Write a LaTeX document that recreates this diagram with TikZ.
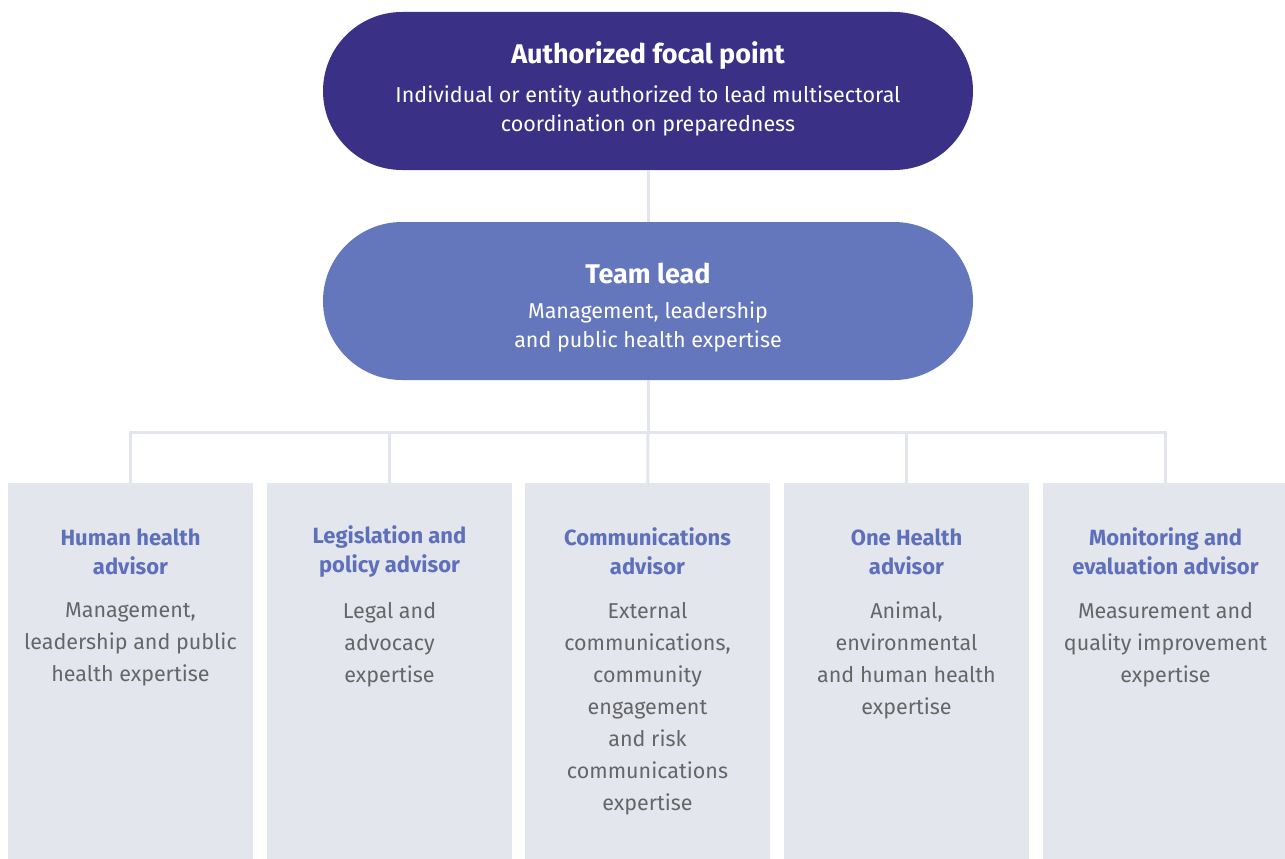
\documentclass[tikz,border=0pt]{standalone}
\usepackage{fontspec}
\setmainfont{Fira Sans}
\usetikzlibrary{positioning}
\definecolor{focalblue}{HTML}{3A3186}
\definecolor{leadblue}{HTML}{6577BC}
\definecolor{linkgrey}{HTML}{E3E5EE}
\definecolor{boxgrey}{HTML}{E4E6EE}
\definecolor{advblue}{HTML}{5F70BA}
\definecolor{bodygrey}{HTML}{666666}
\tikzset{
  pill/.style={rectangle, rounded corners=79pt, minimum width=650pt, minimum height=158pt, inner sep=0pt},
  pilltitle/.style={text=white, font=\fontsize{27}{29}\selectfont\bfseries, inner sep=0pt},
  pilltext/.style={text=white, align=center, font=\fontsize{21.5}{29}\selectfont, inner sep=0pt},
  advbox/.style={fill=boxgrey, minimum width=245pt, minimum height=376pt, anchor=north, inner sep=0pt},
  advtitle/.style={text=advblue, align=center, font=\fontsize{22}{29}\selectfont\bfseries, inner sep=0pt},
  advtext/.style={text=bodygrey, align=center, font=\fontsize{21.5}{32}\selectfont, inner sep=0pt, anchor=north},
  link/.style={draw=linkgrey, line width=3pt}
}
\begin{document}
\begin{tikzpicture}[x=1pt,y=-1pt]
\useasboundingbox (0,0) rectangle (1285,859);
% top of the chart
\node [pill, fill=focalblue] (focal) at (648,91) {};
\node [pilltitle] (focalname) at (648,56) {Authorized focal point};
\node [pilltext] (focaldesc) at (648,110.5) {Individual or entity authorized to lead multisectoral\\coordination on preparedness};
\node [pill, fill=leadblue] (lead) at (648,301) {};
\node [pilltitle] (leadname) at (648,273) {Team lead};
\node [pilltext] (leaddesc) at (648,326.5) {Management, leadership\\and public health expertise};
% advisors
\node [advbox] (human) at (130.5,483) {};
\node [advtitle] (humanname) at (130.5,551.5) {Human health\\advisor};
\node [advtext] (humandesc) at (130.5,602) {Management,\\leadership and public\\health expertise};
\node [advbox] (legal) at (389.5,483) {};
\node [advtitle] (legalname) at (389.5,551.5) {Legislation and\\policy advisor};
\node [advtext] (legaldesc) at (389.5,602) {Legal and\\advocacy\\expertise};
\node [advbox] (comm) at (647.5,483) {};
\node [advtitle] (commname) at (647.5,551.5) {Communications\\advisor};
\node [advtext] (commdesc) at (647.5,602) {External\\communications,\\community\\engagement\\and risk\\communications\\expertise};
\node [advbox] (onehealth) at (906.5,483) {};
\node [advtitle] (onehealthname) at (906.5,551.5) {One Health\\advisor};
\node [advtext] (onehealthdesc) at (906.5,602) {Animal,\\environmental\\and human health\\expertise};
\node [advbox] (monitor) at (1165.5,483) {};
\node [advtitle] (monitorname) at (1165.5,551.5) {Monitoring and\\evaluation advisor};
\node [advtext] (monitordesc) at (1165.5,602) {Measurement and\\quality improvement\\expertise};
% connectors
\coordinate (bar) at (648,432);
\draw [link] (focal) -- (lead);
\draw [link] (lead) -- (bar);
\draw [link] (bar) -| (human);
\draw [link] (bar) -| (legal);
\draw [link] (bar) -- (comm);
\draw [link] (bar) -| (onehealth);
\draw [link] (bar) -| (monitor);
\end{tikzpicture}
\end{document}
